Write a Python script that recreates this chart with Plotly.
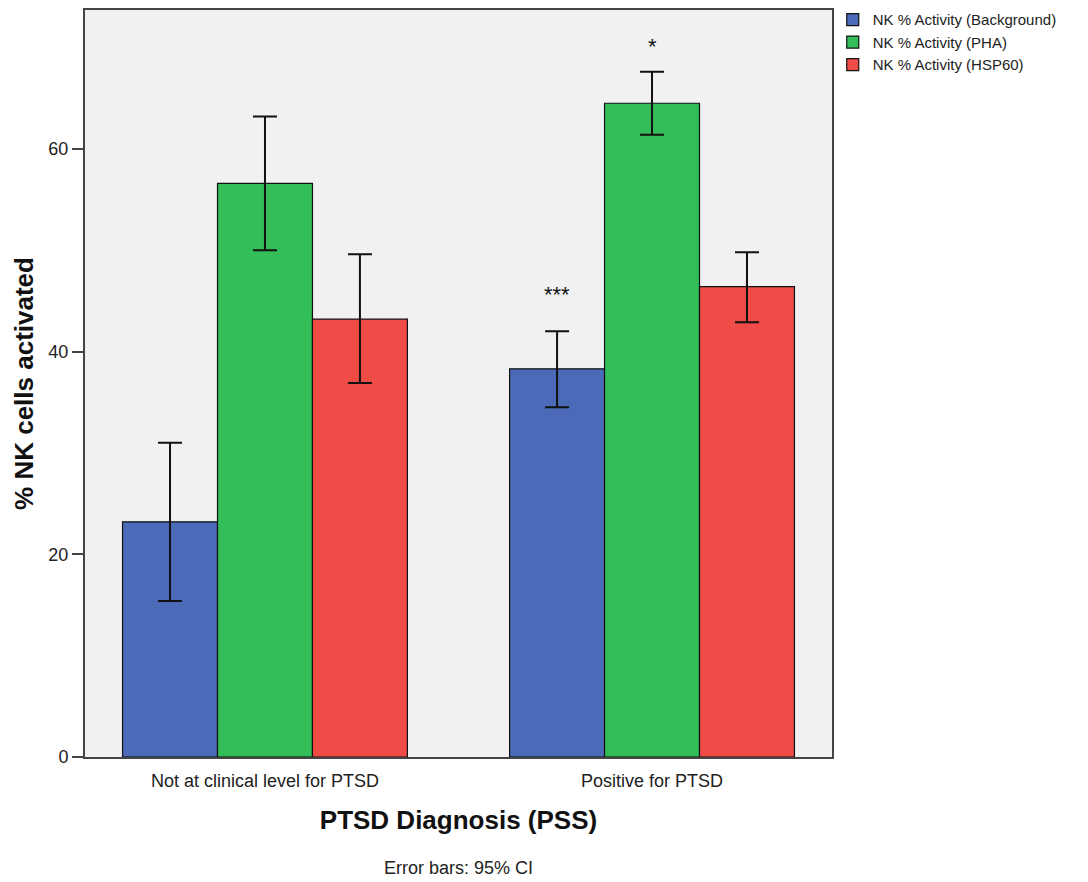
import plotly.graph_objects as go

# PTSD groups and NK activity measures
groups = ["Not at clinical level for PTSD", "Positive for PTSD"]
series_names = ["NK % Activity (Background)", "NK % Activity (PHA)", "NK % Activity (HSP60)"]
colors = ["#4B6AB8", "#33BE5A", "#EF4C48"]

# Means and 95% CI bounds per series (one value per group)
means = [
    [23.2, 38.3],
    [56.6, 64.5],
    [43.2, 46.4],
]
ci_upper = [
    [31.0, 42.0],
    [63.2, 67.6],
    [49.6, 49.8],
]
ci_lower = [
    [15.4, 34.5],
    [50.0, 61.4],
    [36.9, 42.9],
]

# significance markers: (group index, series index, y position, text)
sig_marks = [(1, 0, 45.6, "***"), (1, 1, 70.1, "*")]

x_pos = list(range(len(groups)))
bar_w = 0.2455

fig = go.Figure()
for i, name in enumerate(series_names):
    plus = [u - m for u, m in zip(ci_upper[i], means[i])]
    minus = [m - l for m, l in zip(means[i], ci_lower[i])]
    fig.add_trace(go.Bar(
        x=x_pos, y=means[i], name=name,
        marker=dict(color=colors[i], line=dict(color="#111111", width=1.2)),
        error_y=dict(type="data", symmetric=False, array=plus, arrayminus=minus,
                     color="#111111", thickness=2, width=12),
    ))

for g, s, yv, txt in sig_marks:
    fig.add_annotation(x=g + (s - 1) * bar_w, y=yv, text=txt, showarrow=False,
                       font=dict(size=22, color="#111111", family="Liberation Sans, Arial"),
                       xref="x", yref="y")

fig.add_annotation(x=0.5, y=-0.1486, xref="paper", yref="paper", yanchor="middle",
                   text="Error bars: 95% CI", showarrow=False,
                   font=dict(size=18, color="#222222"))

fig.update_layout(
    width=1088, height=882,
    margin=dict(l=85, r=256, t=10, b=125, autoexpand=False),
    paper_bgcolor="white", plot_bgcolor="#F1F1F1",
    barmode="group", bargap=0.264, bargroupgap=0,
    font=dict(family="Liberation Sans, Arial, sans-serif", color="#222222"),
    showlegend=True,
    legend=dict(x=1.001, y=1.009, xanchor="left", yanchor="top",
                font=dict(size=15, color="#222222"), tracegroupgap=0,
                itemwidth=30, bgcolor="rgba(0,0,0,0)"),
)
fig.update_xaxes(
    range=[-0.465, 1.465], tickmode="array", tickvals=x_pos, ticktext=groups,
    tickfont=dict(size=18), ticks="outside", ticklen=6, tickcolor="rgba(0,0,0,0)",
    showgrid=False, zeroline=False,
    showline=True, linecolor="#444444", linewidth=2, mirror=True,
    title=dict(text="<b>PTSD Diagnosis (PSS)</b>", font=dict(size=26, color="#111111"), standoff=21),
)
fig.update_yaxes(
    range=[0, 73.7], tickvals=[0, 20, 40, 60], tickfont=dict(size=18),
    ticks="outside", ticklen=11, tickwidth=2, tickcolor="#444444",
    showgrid=False, zeroline=False,
    showline=True, linecolor="#444444", linewidth=2, mirror=True,
    title=dict(text="<b>% NK cells activated</b>", font=dict(size=26, color="#111111"), standoff=7),
)

fig.write_html("out.html")
